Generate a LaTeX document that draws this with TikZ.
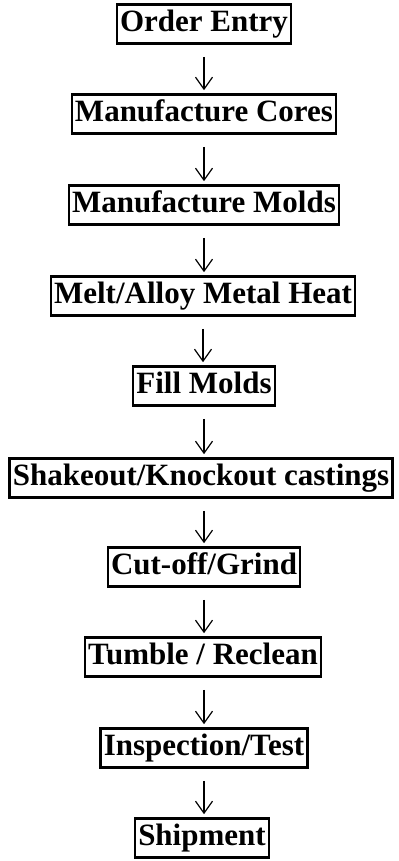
\documentclass[tikz,border=0pt]{standalone}
\usepackage{fontspec}
\setmainfont{Liberation Serif}
\usepackage{tikz}
\usetikzlibrary{arrows.meta}

\begin{document}
\begin{tikzpicture}[x=0.5pt, y=-0.5pt,
  font=\fontsize{15.5}{18}\selectfont\bfseries,
  stepbox/.style={draw, line width=1.2pt, inner xsep=1.6pt, inner ysep=2.6pt, text height=11pt, text depth=3.4pt},
  flow/.style={-{Straight Barb[length=6pt, width=8.5pt, line width=0.6pt]}, line width=0.6pt, shorten <=6pt, shorten >=1.5pt}]
  \useasboundingbox (0,0) rectangle (398,861);

  % Process steps
  \node[stepbox] (order) at (204, 24) {Order Entry};
  \node[stepbox] (cores) at (204, 114) {Manufacture Cores};
  \node[stepbox] (molds) at (204, 205) {Manufacture Molds};
  \node[stepbox] (melt) at (203, 296) {Melt/Alloy Metal Heat};
  \node[stepbox] (fill) at (204, 386) {Fill Molds};
  \node[stepbox] (shake) at (201, 478) {Shakeout/Knockout castings};
  \node[stepbox] (grind) at (204, 567) {Cut-off/Grind};
  \node[stepbox] (tumble) at (203, 657) {Tumble / Reclean};
  \node[stepbox] (inspect) at (204, 748) {Inspection/Test};
  \node[stepbox] (ship) at (202, 838) {Shipment};

  % Arrows between steps
  \draw[flow] (order.south) -- (order.south |- cores.north);
  \draw[flow] (cores.south) -- (cores.south |- molds.north);
  \draw[flow] (molds.south) -- (molds.south |- melt.north);
  \draw[flow] (melt.south) -- (melt.south |- fill.north);
  \draw[flow] (fill.south) -- (fill.south |- shake.north);
  \draw[flow] (grind.north |- shake.south) -- (grind.north);
  \draw[flow] (grind.south) -- (grind.south |- tumble.north);
  \draw[flow] (inspect.north |- tumble.south) -- (inspect.north);
  \draw[flow] (inspect.south) -- (inspect.south |- ship.north);

\end{tikzpicture}
\end{document}
